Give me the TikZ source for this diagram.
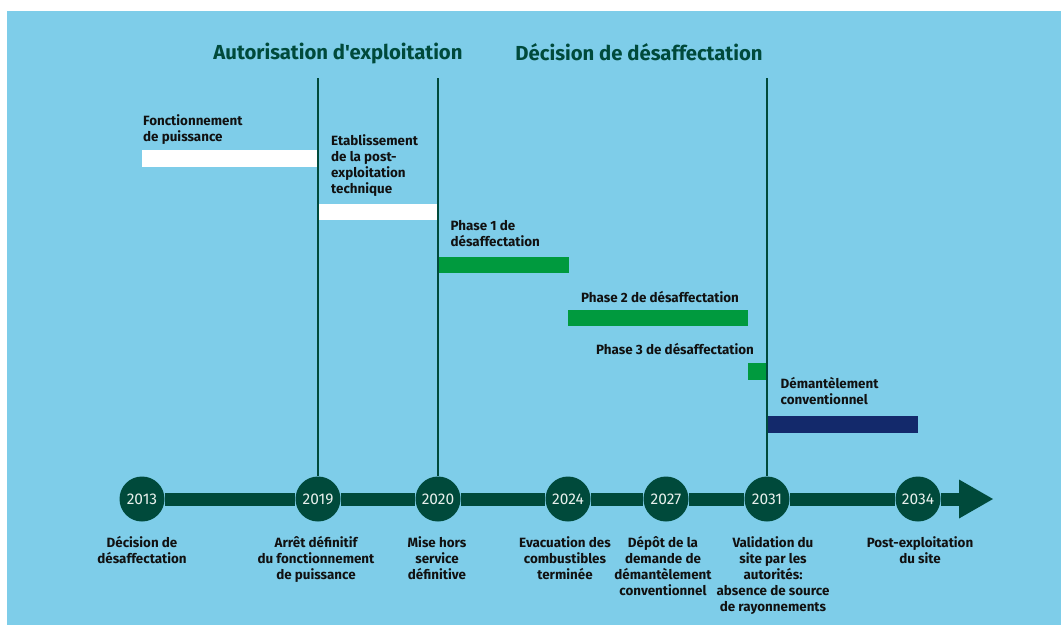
\documentclass[tikz,border=0pt]{standalone}
\usepackage{fontspec}
\setmainfont{Fira Sans}
\newfontfamily\plainfira{Fira Sans}
\usetikzlibrary{calc}
\definecolor{bg}{HTML}{7ECDE9}
\definecolor{dg}{HTML}{004A3B}
\definecolor{greenbar}{HTML}{009A3E}
\definecolor{navy}{HTML}{13296B}
\definecolor{ink}{HTML}{111111}
\definecolor{yr}{HTML}{E8F0EC}
\begin{document}
\begin{tikzpicture}[x=1pt,y=-1pt,
  year/.style={circle,fill=dg,minimum size=45pt,inner sep=0pt,text=yr,font=\fontsize{15.5}{18}\selectfont},
  lbl/.style={font=\bfseries\fontsize{13.4}{16}\selectfont,text=ink,inner sep=0pt},
  belowlbl/.style={lbl,align=center,anchor=north},
  barlbl/.style={lbl,align=left,anchor=north west},
  titlelbl/.style={font=\plainfira\bfseries\fontsize{20.3}{24}\selectfont,text=dg,inner sep=0pt,anchor=north},
  vline/.style={draw=dg,line width=1.3pt},
  axis/.style={draw=dg,line width=13pt},
  wbar/.style={fill=white},
  gbar/.style={fill=greenbar},
  nbar/.style={fill=navy}]
\useasboundingbox (0,0) rectangle (1061,625);
\fill[bg] (7,11) rectangle (1061,625);

% titles
\node[titlelbl] (t1) at (338,43) {Autorisation d'exploitation};
\node[titlelbl] (t2) at (639,43) {Décision de désaffectation};

% bars
\fill[wbar] (142,150) rectangle (318,166.5);
\fill[wbar] (318,203.5) rectangle (437,220);
\fill[gbar] (438,256.5) rectangle (569,273);
\fill[gbar] (568,309.5) rectangle (748,326);
\fill[gbar] (748,363) rectangle (767,380);
\fill[nbar] (767,416) rectangle (918,433);

% bar labels
\node[barlbl] (l1) at (143,114) {Fonctionnement\\de puissance};
\node[barlbl] (l2) at (331,134) {Etablissement\\de la post-\\exploitation\\technique};
\node[barlbl] (l3) at (450.5,220) {Phase 1 de\\désaffectation};
\node[barlbl] (l4) at (581,291) {Phase 2 de désaffectation};
\node[barlbl] (l5) at (596,343.5) {Phase 3 de désaffectation};
\node[barlbl] (l6) at (780.5,377) {Démantèlement\\conventionnel};

% year circles
\node[year] (c2013) at (142,499) {2013};
\node[year] (c2019) at (318,499) {2019};
\node[year] (c2020) at (438,499) {2020};
\node[year] (c2024) at (568,499) {2024};
\node[year] (c2027) at (666,499) {2027};
\node[year] (c2031) at (767,499) {2031};
\node[year] (c2034) at (918,499) {2034};

% axis
\coordinate (tipbase) at (959,499);
\coordinate (tip) at (993,499);
\draw[axis] (c2013) -- (c2019);
\draw[axis] (c2019) -- (c2020);
\draw[axis] (c2020) -- (c2024);
\draw[axis] (c2024) -- (c2027);
\draw[axis] (c2027) -- (c2031);
\draw[axis] (c2031) -- (c2034);
\draw[axis] (c2034) -- ($(tipbase)+(1,0)$);
\fill[dg] ($(tipbase)+(0,-19.5)$) -- (tip) -- ($(tipbase)+(0,19.5)$) -- cycle;

% vertical lines
\coordinate (v2019) at (318,78);
\coordinate (v2020) at (438,78);
\coordinate (v2031) at (767,78);
\draw[vline] (v2019) -- (c2019);
\draw[vline] (v2020) -- (c2020);
\draw[vline] (v2031) -- (c2031);

% bottom labels
\node[belowlbl] (b2013) at (142,536) {Décision de\\désaffectation};
\node[belowlbl] (b2019) at (316,536) {Arrêt définitif\\du fonctionnement\\de puissance};
\node[belowlbl] (b2020) at (437,536) {Mise hors\\service\\définitive};
\node[belowlbl] (b2024) at (565,536) {Evacuation des\\combustibles\\terminée};
\node[belowlbl] (b2027) at (663,536) {Dépôt de la\\demande de\\démantèlement\\conventionnel};
\node[belowlbl] (b2031) at (773,536) {Validation du\\site par les\\autorités:\\absence de source\\de rayonnements};
\node[belowlbl] (b2034) at (920,536) {Post-exploitation\\du site};
\end{tikzpicture}
\end{document}
